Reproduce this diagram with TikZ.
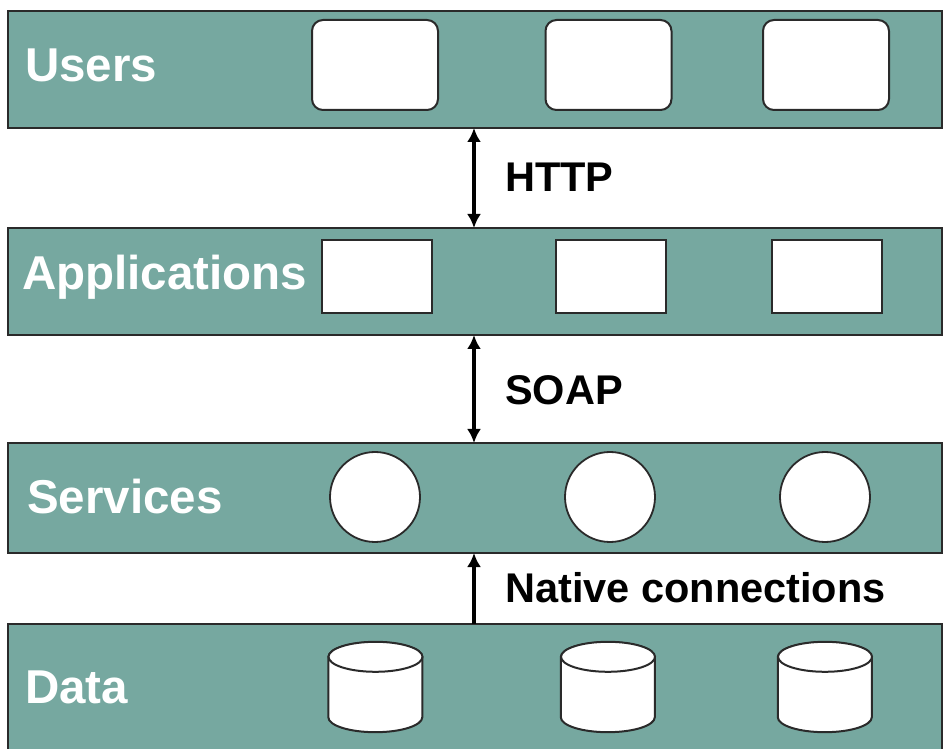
\documentclass[tikz,border=0pt]{standalone}
\usepackage{fontspec}
\setmainfont{Liberation Sans}
\usetikzlibrary{arrows.meta}
\definecolor{layerteal}{HTML}{76A8A0}
\definecolor{edgegray}{HTML}{2A2A2A}

% database cylinder drawn inside the frame of a named node
\newcommand\drawcyl[1]{%
  \draw[cylstyle] (#1.south west) ++(0,15pt) -- ++(0,60pt)
    arc[start angle=180,end angle=0,x radius=47pt,y radius=15pt] -- ++(0,-60pt)
    arc[start angle=0,end angle=-180,x radius=47pt,y radius=15pt] -- cycle;
  \draw[cylstyle] (#1.north) ++(0,-15pt) ellipse[x radius=47pt,y radius=15pt];}

\begin{document}
\begin{tikzpicture}[x=1pt,y=1pt,
  layer/.style={rectangle,draw=edgegray,line width=2pt,fill=layerteal,
    minimum width=934pt,inner sep=0pt,outer sep=0pt},
  layerlabel/.style={anchor=base west,inner sep=0pt,text=white,
    font=\fontsize{47.5}{50}\selectfont\bfseries},
  protolabel/.style={anchor=base west,inner sep=0pt,text=black,
    font=\fontsize{41.5}{44}\selectfont\bfseries},
  userbox/.style={rectangle,rounded corners=11pt,draw=edgegray,line width=2pt,
    fill=white,minimum width=126pt,minimum height=90pt,inner sep=0pt},
  appbox/.style={rectangle,draw=edgegray,line width=2pt,fill=white,
    minimum width=110pt,minimum height=73pt,inner sep=0pt},
  svcnode/.style={circle,draw=edgegray,line width=1.8pt,fill=white,
    minimum size=90pt,inner sep=0pt},
  dataslot/.style={rectangle,minimum width=94pt,minimum height=90pt,inner sep=0pt},
  cylstyle/.style={draw=edgegray,line width=2pt,fill=white},
  link/.style={line width=3.6pt,black},
  dbl/.style={link,{Latex[length=14pt,width=14pt]}-{Latex[length=14pt,width=14pt]}},
  sgl/.style={link,-{Latex[length=14pt,width=14pt]}}]

\useasboundingbox (0,0) rectangle (943,748);
\clip (0,0) rectangle (943,748);
\fill[white] (0,0) rectangle (943,748);

% layers
\node[layer,minimum height=117pt] (users) at (475,678.5) {};
\node[layer,minimum height=107pt] (apps) at (475,466.5) {};
\node[layer,minimum height=110pt] (svcs) at (475,250) {};
\node[layer,minimum height=144pt] (data) at (475,52) {};

% layer titles
\node[layerlabel] (tusers) at (25,666) {Users};
\node[layerlabel] (tapps) at (22,458) {Applications};
\node[layerlabel] (tsvcs) at (27,234) {Services};
\node[layerlabel] (tdata) at (25,45) {Data};

% user clients
\node[userbox] (u1) at (375,683) {};
\node[userbox] (u2) at (608.5,683) {};
\node[userbox] (u3) at (826,683) {};

% applications
\node[appbox] (a1) at (377,471.5) {};
\node[appbox] (a2) at (610.5,471.5) {};
\node[appbox] (a3) at (827,471.5) {};

% services
\node[svcnode] (s1) at (375,251) {};
\node[svcnode] (s2) at (610,251) {};
\node[svcnode] (s3) at (825,251) {};

% data stores
\node[dataslot] (d1) at (375.5,61) {};
\node[dataslot] (d2) at (608,61) {};
\node[dataslot] (d3) at (825,61) {};
\drawcyl{d1}
\drawcyl{d2}
\drawcyl{d3}

% protocols between layers
\coordinate (ax) at (474,0);
\draw[dbl] (ax |- users.south) -- (ax |- apps.north);
\draw[dbl] (ax |- apps.south) -- (ax |- svcs.north);
\draw[sgl] (ax |- data.north) -- (ax |- svcs.south);

\node[protolabel] (lhttp) at (505,556) {HTTP};
\node[protolabel] (lsoap) at (505,343) {SOAP};
\node[protolabel] (lnative) at (505,146) {Native connections};
\end{tikzpicture}
\end{document}
